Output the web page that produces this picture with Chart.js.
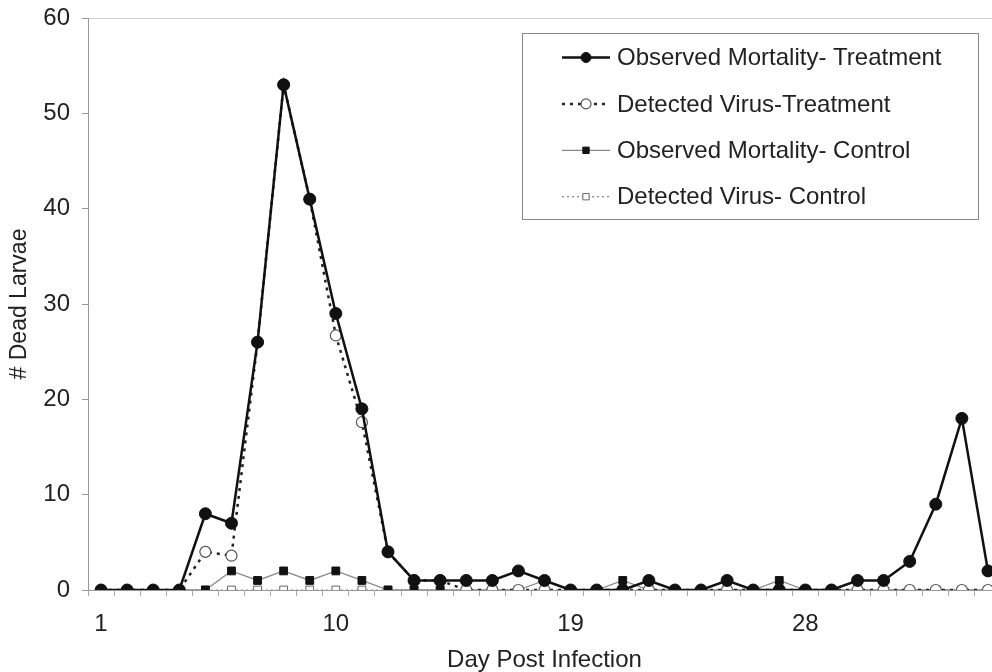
<!DOCTYPE html>
<html>
<head>
<meta charset="utf-8">
<title>Dead Larvae by Day</title>
<script src="https://cdn.jsdelivr.net/npm/chart.js@4.4.0/dist/chart.umd.min.js"></script>
<style>
  html, body { margin: 0; padding: 0; background: #fff; overflow: hidden; }
  #wrap { width: 1008px; height: 672px; position: relative; }
</style>
</head>
<body>
<div id="wrap"><canvas id="chart"></canvas></div>
<script>
// Days post infection
const days = ['1', '2', '3', '4', '5', '6', '7', '8', '9', '10', '11', '12',
              '13', '14', '15', '16', '17', '18', '19', '20', '21', '22', '23', '24',
              '25', '26', '27', '28', '29', '30', '31', '32', '33', '34', '35'];

// Number of dead larvae per day
const mortalityTreatment = [0, 0, 0, 0, 8, 7, 26, 53, 41, 29, 19, 4,
                            1, 1, 1, 1, 2, 1, 0, 0, 0, 1, 0, 0,
                            1, 0, 0, 0, 0, 1, 1, 3, 9, 18, 2];
const virusTreatment = [0, 0, 0, 0, 4, 3.6, 26, 53, 41, 26.7, 17.6, 4,
                        1, 1, 0, 0, 0, 0, 0, 0, 0, 0, 0, 0,
                        0, 0, 0, 0, 0, 0, 0, 0, 0, 0, 0];
const mortalityControl = [0, 0, 0, 0, 0, 2, 1, 2, 1, 2, 1, 0,
                          0, 0, 0, 0, 0, 1, 0, 0, 1, 0, 0, 0,
                          0, 0, 1, 0, 0, 0, 0, 0, 0, 0, 0];
const virusControl = [0, 0, 0, 0, 0, 0, 0, 0, 0, 0, 0, 0,
                      0, 0, 0, 0, 0, 0, 0, 0, 0, 0, 0, 0,
                      0, 0, 0, 0, 0, 0, 0, 0, 0, 0, 0];

const FONT = '"Liberation Sans", Arial, sans-serif';
const TEXT = '#222';

// legend drawn inside the plot, in a framed box
const boxLegend = {
    id: 'boxLegend',
    afterDraw(chart) {
        const ctx = chart.ctx;
        const left = 522, top = 33, w = 456, h = 186;
        ctx.save();
        ctx.fillStyle = '#fff';
        ctx.fillRect(left, top, w, h);
        ctx.strokeStyle = '#888';
        ctx.lineWidth = 1;
        ctx.strokeRect(left + 0.5, top + 0.5, w, h);

        chart.data.datasets.forEach((ds, i) => {
            const y = top + 24.5 + i * 46.4;
            ctx.strokeStyle = ds.borderColor;
            ctx.lineWidth = ds.borderWidth;
            ctx.setLineDash(ds.borderDash || []);
            ctx.beginPath();
            ctx.moveTo(left + 40, y);
            ctx.lineTo(left + 88, y);
            ctx.stroke();
            ctx.setLineDash([]);

            ctx.fillStyle = ds.pointBackgroundColor;
            ctx.strokeStyle = ds.pointBorderColor;
            ctx.lineWidth = ds.pointBorderWidth;
            Chart.helpers.drawPoint(ctx, {
                pointStyle: ds.pointStyle,
                radius: ds.pointStyle === 'rect' ? 4.5 : 5,
                borderWidth: ds.pointBorderWidth,
                rotation: 0
            }, left + 64, y);

            ctx.fillStyle = TEXT;
            ctx.font = '24px ' + FONT;
            ctx.textBaseline = 'middle';
            ctx.textAlign = 'left';
            ctx.fillText(ds.label, left + 95, y + 1);
        });
        ctx.restore();
    }
};

new Chart(document.getElementById('chart'), {
    type: 'line',
    data: {
        labels: days,
        datasets: [{
            label: 'Observed Mortality- Treatment',
            data: mortalityTreatment,
            borderColor: '#111',
            borderWidth: 2.5,
            pointStyle: 'circle',
            pointRadius: 6,
            pointBackgroundColor: '#111',
            pointBorderColor: '#111',
            pointBorderWidth: 1
        }, {
            label: 'Detected Virus-Treatment',
            data: virusTreatment,
            borderColor: '#222',
            borderWidth: 2.5,
            borderDash: [3, 5],
            pointStyle: 'circle',
            pointRadius: 5.5,
            pointBackgroundColor: '#fff',
            pointBorderColor: '#555',
            pointBorderWidth: 1.2
        }, {
            label: 'Observed Mortality- Control',
            data: mortalityControl,
            borderColor: '#888',
            borderWidth: 1.3,
            pointStyle: 'rect',
            pointRadius: 5.5,
            pointBackgroundColor: '#111',
            pointBorderColor: '#111',
            pointBorderWidth: 1
        }, {
            label: 'Detected Virus- Control',
            data: virusControl,
            borderColor: '#888',
            borderWidth: 1.2,
            borderDash: [2, 3],
            pointStyle: 'rect',
            pointRadius: 5.5,
            pointBackgroundColor: '#fff',
            pointBorderColor: '#666',
            pointBorderWidth: 1
        }]
    },
    options: {
        responsive: true,
        maintainAspectRatio: false,
        animation: false,
        layout: { padding: { top: 18, right: 2, left: 0, bottom: 0 } },
        elements: { line: { tension: 0 } },
        plugins: {
            legend: { display: false },
            tooltip: { enabled: false }
        },
        scales: {
            x: {
                type: 'category',
                offset: true,
                afterFit(scale) { scale.height = 82; },
                grid: {
                    offset: true,
                    drawOnChartArea: false,
                    tickLength: 6,
                    tickColor: '#aaa'
                },
                border: { color: '#999', width: 1 },
                ticks: {
                    autoSkip: false,
                    maxRotation: 0,
                    padding: 14,
                    color: TEXT,
                    font: { family: FONT, size: 24 },
                    callback(value, index) {
                        return index % 9 === 0 ? this.getLabelForValue(value) : '';
                    }
                },
                title: {
                    display: true,
                    text: 'Day Post Infection',
                    color: TEXT,
                    font: { family: FONT, size: 24, lineHeight: 1 },
                    padding: { top: 0, bottom: 0 }
                }
            },
            y: {
                min: 0,
                max: 60,
                afterFit(scale) {
                    scale.width = 88;
                    scale.paddingTop = 0;
                    scale.paddingBottom = 0;
                },
                grid: {
                    drawOnChartArea: true,
                    color: (c) => (c.tick && c.tick.value === 60 ? '#d0d0d0' : 'rgba(0,0,0,0)'),
                    tickColor: '#999',
                    tickLength: 6
                },
                border: { color: '#999', width: 1 },
                ticks: {
                    stepSize: 10,
                    padding: 12,
                    color: TEXT,
                    font: { family: FONT, size: 24 }
                },
                title: {
                    display: true,
                    text: '# Dead Larvae',
                    color: TEXT,
                    font: { family: FONT, size: 23, lineHeight: 1 },
                    padding: { top: 8, bottom: 0 }
                }
            }
        }
    },
    plugins: [boxLegend]
});
</script>
</body>
</html>
